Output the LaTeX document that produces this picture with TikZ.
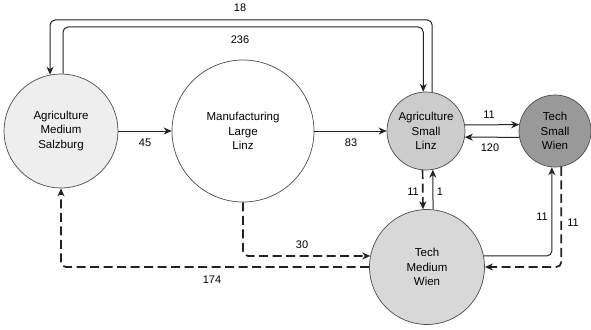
\documentclass[tikz,border=0pt]{standalone}
\usepackage{fontspec}
\setmainfont{Liberation Sans}
\usetikzlibrary{arrows.meta}

\definecolor{fillAMS}{HTML}{EEEEEE}
\definecolor{fillASL}{HTML}{CCCCCC}
\definecolor{fillTSW}{HTML}{999999}
\definecolor{fillTMW}{HTML}{D8D8D8}
\definecolor{edgecol}{HTML}{222222}

\tikzset{
	firm/.style={circle, draw=black!70, line width=0.7pt, align=center, inner sep=0pt,
		font=\fontsize{11.5}{14.5}\selectfont},
	flow/.style={-{Stealth[length=8pt,width=7pt,inset=2.5pt]}, draw=edgecol, line width=1pt, rounded corners=5pt},
	dflow/.style={flow, line width=1.7pt, dash pattern=on 9pt off 4.5pt},
	qty/.style={font=\fontsize{11}{12}\selectfont, inner sep=1pt}
}

\begin{document}
\begin{tikzpicture}[x=1pt, y=-1pt]
		\useasboundingbox (0,0) rectangle (591,329);

		% firms
		\node[firm, fill=fillAMS, minimum size=114pt] (AMS) at (61,131) {Agriculture\\Medium\\Salzburg};
		\node[firm, fill=white, minimum size=142pt] (MLL) at (243,131) {Manufacturing\\Large\\Linz};
		\node[firm, fill=fillASL, minimum size=78pt] (ASL) at (426,131) {Agriculture\\Small\\Linz};
		\node[firm, fill=fillTSW, minimum size=72pt] (TSW) at (555,131) {Tech\\Small\\Wien};
		\node[firm, fill=fillTMW, minimum size=115pt] (TMW) at (427,267) {Tech\\Medium\\Wien};

		% heights of the two long lines on top
		\coordinate (top18) at (0,20);
		\coordinate (top236) at (0,27);

		% solid flows
		\draw[flow] (ASL.81) |- (top18 -| AMS.101) -- (AMS.101);
		\draw[flow] (AMS.88) |- (top236 -| ASL.94) -- (ASL.94);
		\draw[flow] (AMS.east) -- (MLL.west);
		\draw[flow] (MLL.east) -- (ASL.west);
		\draw[flow] (ASL.9) -- (TSW.170);
		\draw[flow] (TSW.190) -- (ASL.351);
		\draw[flow] (TMW.84) -- (ASL.280);
		\draw[flow] (TMW.11) -| (TSW.265);

		% dashed flows
		\draw[dflow] (ASL.265) -- (TMW.94);
		\draw[dflow] (MLL.south) |- (TMW.169);
		\draw[dflow] (TMW.west) -| (AMS.south);
		\draw[dflow] (TSW.280) |- (TMW.east);

		% quantities
		\node[qty] (l18) at (240,8) {18};
		\node[qty] (l236) at (240,40) {236};
		\node[qty] (l45) at (145,143) {45};
		\node[qty] (l83) at (351,143) {83};
		\node[qty] (l11a) at (489,115) {11};
		\node[qty] (l120) at (490,148) {120};
		\node[qty] (l11b) at (413,192) {11};
		\node[qty] (l1) at (440,192) {1};
		\node[qty] (l30) at (302,245) {30};
		\node[qty] (l174) at (212,280) {174};
		\node[qty] (l11c) at (542,217) {11};
		\node[qty] (l11d) at (573,223) {11};
	\end{tikzpicture}
\end{document}
